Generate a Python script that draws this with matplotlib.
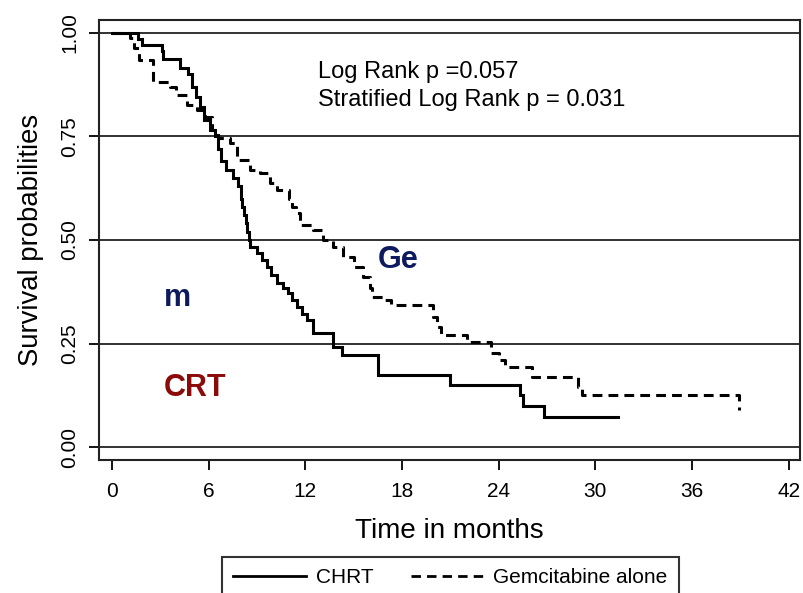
import matplotlib
matplotlib.use("Agg")
import matplotlib.pyplot as plt
from matplotlib.lines import Line2D

plt.rcParams['font.family'] = ['Liberation Sans', 'DejaVu Sans']

# CHRT arm (solid)
chrt_t = [0, 1.6, 1.9, 3.1, 3.2, 4.2, 4.7, 5.0, 5.2, 5.5, 5.7, 6.1, 6.4, 6.6, 6.8,
          7.1, 7.5, 7.8, 8.0, 8.1, 8.2, 8.3, 8.4, 8.5, 8.6, 9.0, 9.3, 9.6, 9.9,
          10.25, 10.6, 10.9, 11.2, 11.5, 11.8, 12.1, 12.5, 13.7, 14.3, 16.5, 21.0,
          25.3, 25.5, 26.8, 31.4]
chrt_s = [1.0, 0.985, 0.971, 0.955, 0.937, 0.915, 0.90, 0.87, 0.845, 0.82, 0.79,
          0.765, 0.75, 0.72, 0.69, 0.67, 0.65, 0.63, 0.60, 0.58, 0.56, 0.54, 0.52,
          0.50, 0.483, 0.469, 0.452, 0.435, 0.415, 0.396, 0.384, 0.372, 0.355,
          0.338, 0.322, 0.307, 0.275, 0.242, 0.222, 0.174, 0.150, 0.126, 0.099,
          0.072, 0.072]

# Gemcitabine alone arm (dashed)
gem_t = [0, 1.1, 1.4, 1.7, 2.55, 3.6, 4.0, 4.66, 5.3, 5.8, 6.2, 6.6, 7.33, 7.76,
         8.57, 9.2, 9.8, 10.25, 11.0, 11.2, 11.4, 11.7, 12.5, 13.1, 13.7, 14.35,
         15.0, 15.6, 16.0, 16.15, 16.8, 17.3, 19.9, 20.2, 20.4, 22.05, 23.5, 24.0,
         24.4, 26.1, 28.9, 29.2, 38.9]
gem_s = [1.0, 0.988, 0.964, 0.935, 0.882, 0.870, 0.850, 0.826, 0.814, 0.797,
         0.766, 0.746, 0.734, 0.693, 0.669, 0.662, 0.638, 0.621, 0.60, 0.58,
         0.565, 0.536, 0.524, 0.50, 0.483, 0.459, 0.435, 0.41, 0.385, 0.362,
         0.355, 0.343, 0.314, 0.29, 0.27, 0.254, 0.227, 0.21, 0.193, 0.169,
         0.145, 0.126, 0.089]

x_ticks = [0, 6, 12, 18, 24, 30, 36, 42]
y_ticks = [0.0, 0.25, 0.5, 0.75, 1.0]
y_labels = ["0.00", "0.25", "0.50", "0.75", "1.00"]

fig = plt.figure(figsize=(8.04, 5.93), dpi=100)
ax = fig.add_axes([0.1231, 0.2243, 0.8719, 0.742])

for yv in y_ticks:
    ax.axhline(yv, color='#222222', lw=1.3, zorder=1)

ax.plot(chrt_t, chrt_s, drawstyle='steps-post', color='black', lw=2.2,
        solid_joinstyle='miter', zorder=3)
ax.plot(gem_t, gem_s, drawstyle='steps-post', color='black', lw=2.2,
        ls=(0, (3.2, 2.0)), zorder=3)

ax.set_xlim(-0.8, 42.7)
ax.set_ylim(-0.031, 1.031)
ax.set_xticks(x_ticks)
ax.set_yticks(y_ticks)
ax.set_yticklabels(y_labels, rotation=90, va='center')
ax.tick_params(axis='both', direction='out', length=7, width=1.3,
               labelsize=15, colors='black')
ax.tick_params(axis='y', pad=7)
ax.tick_params(axis='x', pad=9)
for sp in ax.spines.values():
    sp.set_linewidth(1.5)
    sp.set_color('#222222')

ax.set_xlabel("Time in months", fontsize=20, labelpad=12)
ax.set_ylabel("Survival probabilities", fontsize=19.8, labelpad=12)

ax.text(0.312, 0.882, "Log Rank p =0.057", transform=ax.transAxes,
        fontsize=17, ha='left', va='center')
ax.text(0.312, 0.818, "Stratified Log Rank p = 0.031", transform=ax.transAxes,
        fontsize=17, ha='left', va='center')

ax.text(0.397, 0.455, "Ge", transform=ax.transAxes, fontsize=22,
        fontweight='bold', color='#0d1a5e', ha='left', va='center')
ax.text(0.092, 0.368, "m", transform=ax.transAxes, fontsize=22,
        fontweight='bold', color='#0d1a5e', ha='left', va='center')
ax.text(0.092, 0.164, "CRT", transform=ax.transAxes, fontsize=22,
        fontweight='bold', color='#8b0a0a', ha='left', va='center')

handles = [Line2D([], [], color='black', lw=2.0),
           Line2D([], [], color='black', lw=2.0, ls=(0, (3.4, 2.2)))]
leg = fig.legend(handles, ["CHRT", "Gemcitabine alone"], ncol=2,
                 loc='upper left', bbox_to_anchor=(222 / 804, 1 - 557 / 593),
                 fontsize=15, frameon=True, fancybox=False, edgecolor='black',
                 handlelength=3.5, handletextpad=0.45, columnspacing=1.8,
                 borderpad=0.55, borderaxespad=0)
leg.get_frame().set_linewidth(1.5)

fig.savefig("out.png", dpi=100)
